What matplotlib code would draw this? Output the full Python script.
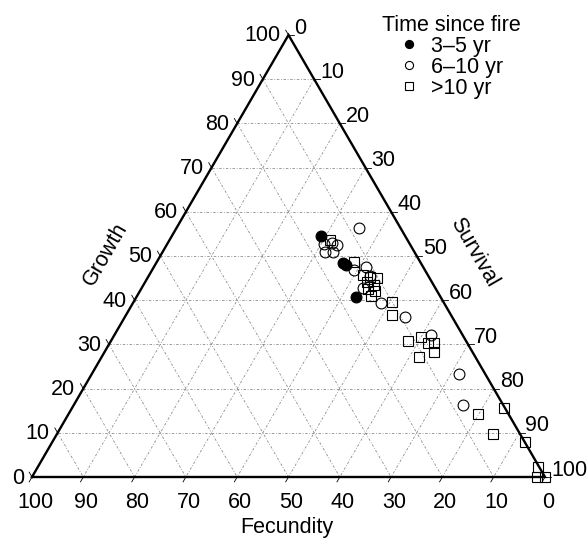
import numpy as np
import matplotlib
matplotlib.use("Agg")
import matplotlib.pyplot as plt
from matplotlib.transforms import offset_copy

plt.rcParams['font.family'] = ['Liberation Sans', 'DejaVu Sans']

# ---------------- data (percent) ----------------
ticks = [0, 10, 20, 30, 40, 50, 60, 70, 80, 90, 100]

# 3-5 yr since fire
early_growth = [54.5, 48.4, 48.0, 40.7]
early_fecundity = [16.5, 15.2, 14.8, 16.5]
early_survival = [29.0, 36.4, 37.2, 42.8]

# 6-10 yr since fire
mid_growth = [56.3, 52.7, 52.9, 52.5, 50.9, 50.9, 46.8, 47.5, 45.5, 42.8, 39.4, 36.2, 32.1, 23.3, 16.3]
mid_fecundity = [8.2, 16.8, 15.1, 14.2, 17.5, 15.9, 13.8, 11.2, 11.3, 14.1, 12.3, 9.2, 6.2, 5.2, 7.9]
mid_survival = [35.5, 30.5, 32.0, 33.3, 31.6, 33.2, 39.4, 41.3, 43.2, 43.1, 48.3, 54.6, 61.7, 71.5, 75.8]

# >10 yr since fire
late_growth = [53.6, 48.6, 45.7, 45.2, 45.0, 44.1, 43.4, 42.5, 42.1, 40.9, 39.6, 36.7,
               30.8, 31.7, 30.3, 30.3, 28.3, 27.1, 15.6, 14.3, 9.7, 7.9, 2.3, 0.0, 0.0]
late_fecundity = [15.1, 12.9, 12.7, 11.5, 10.2, 12.7, 11.6, 13.3, 12.0, 13.5, 10.0, 11.4,
                  11.3, 8.3, 7.7, 6.5, 7.4, 11.1, 0.2, 5.9, 5.3, 0.0, 0.2, 0.0, 1.5]
late_survival = [31.3, 38.5, 41.6, 43.3, 44.8, 43.2, 45.0, 44.2, 45.9, 45.6, 50.4, 51.9,
                 57.9, 60.0, 62.0, 63.2, 64.3, 61.8, 84.2, 79.8, 85.0, 92.1, 97.5, 100.0, 98.5]

series_labels = ['3\u20135 yr', '6\u201310 yr', '>10 yr']

# ---------------- helpers ----------------
H = np.sqrt(3) / 2


def to_xy(g, f, s):
    g = np.asarray(g, float)
    f = np.asarray(f, float)
    s = np.asarray(s, float)
    t = g + f + s
    return (s + g / 2) / t, (g / t) * H


fig = plt.figure(figsize=(5.87, 5.44), dpi=100)
ax = fig.add_axes([0, 0, 1, 1])
ax.set_xlim(-32 / 513, 555 / 513)
ax.set_ylim(-67 / 442 * H, 477 / 442 * H)
ax.axis('off')

FS = 15.5


def off(dx, dy):
    return offset_copy(ax.transData, fig=fig, x=dx, y=dy, units='dots')


# grid lines
grid_kw = dict(color='0.55', lw=0.6, dashes=(3, 2, 1, 2), zorder=1)
for v in ticks[1:-1]:
    x, y = to_xy([v, v], [100 - v, 0], [0, 100 - v])   # constant growth
    ax.plot(x, y, **grid_kw)
    x, y = to_xy([100 - v, 0], [v, v], [0, 100 - v])   # constant fecundity
    ax.plot(x, y, **grid_kw)
    x, y = to_xy([100 - v, 0], [0, 100 - v], [v, v])   # constant survival
    ax.plot(x, y, **grid_kw)

# triangle border
bx, by = to_xy([0, 0, 100, 0], [100, 0, 0, 100], [0, 100, 0, 0])
ax.plot(bx, by, color='black', lw=1.7, zorder=3, solid_joinstyle='miter')

# ticks and tick labels
L = 0.011
for v in ticks:
    # Growth (left edge)
    x, y = to_xy(v, 100 - v, 0)
    ax.plot([x, x - 0.5 * L], [y, y + H * L], color='black', lw=0.6, zorder=3)
    ax.text(x, y, str(v), transform=off(-8, -1), ha='right', va='center', fontsize=FS)
    # Survival (right edge)
    x, y = to_xy(100 - v, 0, v)
    ax.plot([x, x + L], [y, y], color='black', lw=0.6, zorder=3)
    ax.text(x, y, str(v), transform=off(6, 7), ha='left', va='center', fontsize=FS)
    # Fecundity (bottom edge)
    x, y = to_xy(0, v, 100 - v)
    ax.plot([x, x - 0.5 * L], [y, y - H * L], color='black', lw=0.6, zorder=3)
    ax.text(x, y, str(v), transform=off(3, -25), ha='center', va='center', fontsize=FS)

# axis titles
def px(xp, yp):
    return (xp - 32) / 513, (477 - yp) / 442 * H

ax.text(*px(105, 254), 'Growth', rotation=60, ha='center', va='center', fontsize=FS)
ax.text(*px(474, 252), 'Survival', rotation=-60, ha='center', va='center', fontsize=FS)
ax.text(*px(287, 528), 'Fecundity', ha='center', va='center', fontsize=FS)

# points
mk = dict(linestyle='none', markeredgecolor='black', markeredgewidth=0.8, zorder=4)
x, y = to_xy(late_growth, late_fecundity, late_survival)
h3, = ax.plot(x, y, marker='s', markersize=6.8, markerfacecolor='none', label=series_labels[2], **mk)
x, y = to_xy(mid_growth, mid_fecundity, mid_survival)
h2, = ax.plot(x, y, marker='o', markersize=7.8, markerfacecolor='none', label=series_labels[1], **mk)
x, y = to_xy(early_growth, early_fecundity, early_survival)
h1, = ax.plot(x, y, marker='o', markersize=7.8, markerfacecolor='black', label=series_labels[0], **mk)

leg = ax.legend(handles=[h1, h2, h3], title='Time since fire', frameon=False,
                loc='upper center', bbox_to_anchor=(451 / 587, 1 - 4 / 544),
                bbox_transform=fig.transFigure, fontsize=FS, title_fontsize=FS,
                markerscale=0.75, handlelength=1.0, handletextpad=0.52,
                labelspacing=0.0, borderpad=0.0)

fig.savefig('out.png', dpi=100)
